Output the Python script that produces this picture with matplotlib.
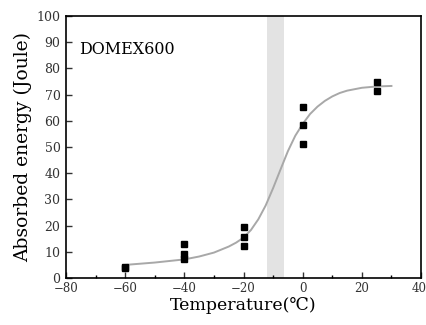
import numpy as np
import matplotlib
matplotlib.use("Agg")
import matplotlib.pyplot as plt
import matplotlib.transforms as mtransforms

plt.rcParams['font.family'] = ['DejaVu Serif', 'Noto Sans CJK KR']

# measured impact energies (Joule) at each test temperature
temp_pts = [-60, -60, -40, -40, -40, -20, -20, -20, 0, 0, 0, 25, 25]
energy_pts = [3.8, 4.3, 13.1, 9.0, 7.2, 19.3, 15.6, 12.2, 65.1, 58.4, 51.1, 74.9, 71.4]

# fitted transition curve
curve_t = [-60, -50, -40, -35, -30, -25, -22.5, -20, -17.5, -15, -12.5, -10, -7.5, -5,
           -2.5, 0, 2.5, 5, 7.5, 10, 12.5, 15, 20, 25, 30]
curve_e = [5.0, 5.9, 7.1, 8.2, 9.7, 12.0, 13.5, 15.4, 18.3, 22.4, 27.7, 34.3, 41.4, 48.4,
           54.3, 58.8, 62.6, 65.4, 67.6, 69.3, 70.6, 71.5, 72.6, 73.1, 73.3]

# transition temperature band
band = (-12.2, -6.4)

fig = plt.figure(figsize=(4.27, 3.25), dpi=100)
ax = fig.add_axes([0.1546, 0.1446, 0.8314, 0.8062])

ax.axvspan(band[0], band[1], color='#e3e3e3', lw=0, zorder=0)
ax.plot(curve_t, curve_e, color='#a8a8a8', lw=1.4, zorder=2)
ax.plot(temp_pts, energy_pts, 's', color='black', ms=4.3, zorder=3)

ax.set_xlim(-80, 40)
ax.set_ylim(0, 100)
ax.set_xticks(np.arange(-80, 41, 20))
ax.set_xticks(np.arange(-70, 40, 20), minor=True)
ax.set_yticks(np.arange(0, 101, 10))
ax.set_xticklabels(['\u221280', '\u221260', '\u221240', '\u221220', '0', '20', '40'])

ax.tick_params(which='major', direction='in', length=4, width=1, labelsize=9, colors='#333333', pad=4)
ax.tick_params(axis='x', which='major', pad=3, labelsize=8.5)
ax.tick_params(which='minor', direction='in', length=2, width=1)
for s in ax.spines.values():
    s.set_linewidth(1.2)

# nudge the last x label so it stays inside the figure
last = ax.get_xticklabels()[-1]
last.set_transform(last.get_transform() + mtransforms.ScaledTranslation(-2/100, 0, fig.dpi_scale_trans))

ax.set_xlabel('Temperature(\u2103)', fontsize=12.5, labelpad=1)
ax.set_ylabel('Absorbed energy (Joule)', fontsize=13.5, labelpad=3)
ax.text(0.037, 0.905, 'DOMEX600', transform=ax.transAxes, fontsize=11.5, va='top', ha='left')

fig.savefig('out.png', dpi=100)
